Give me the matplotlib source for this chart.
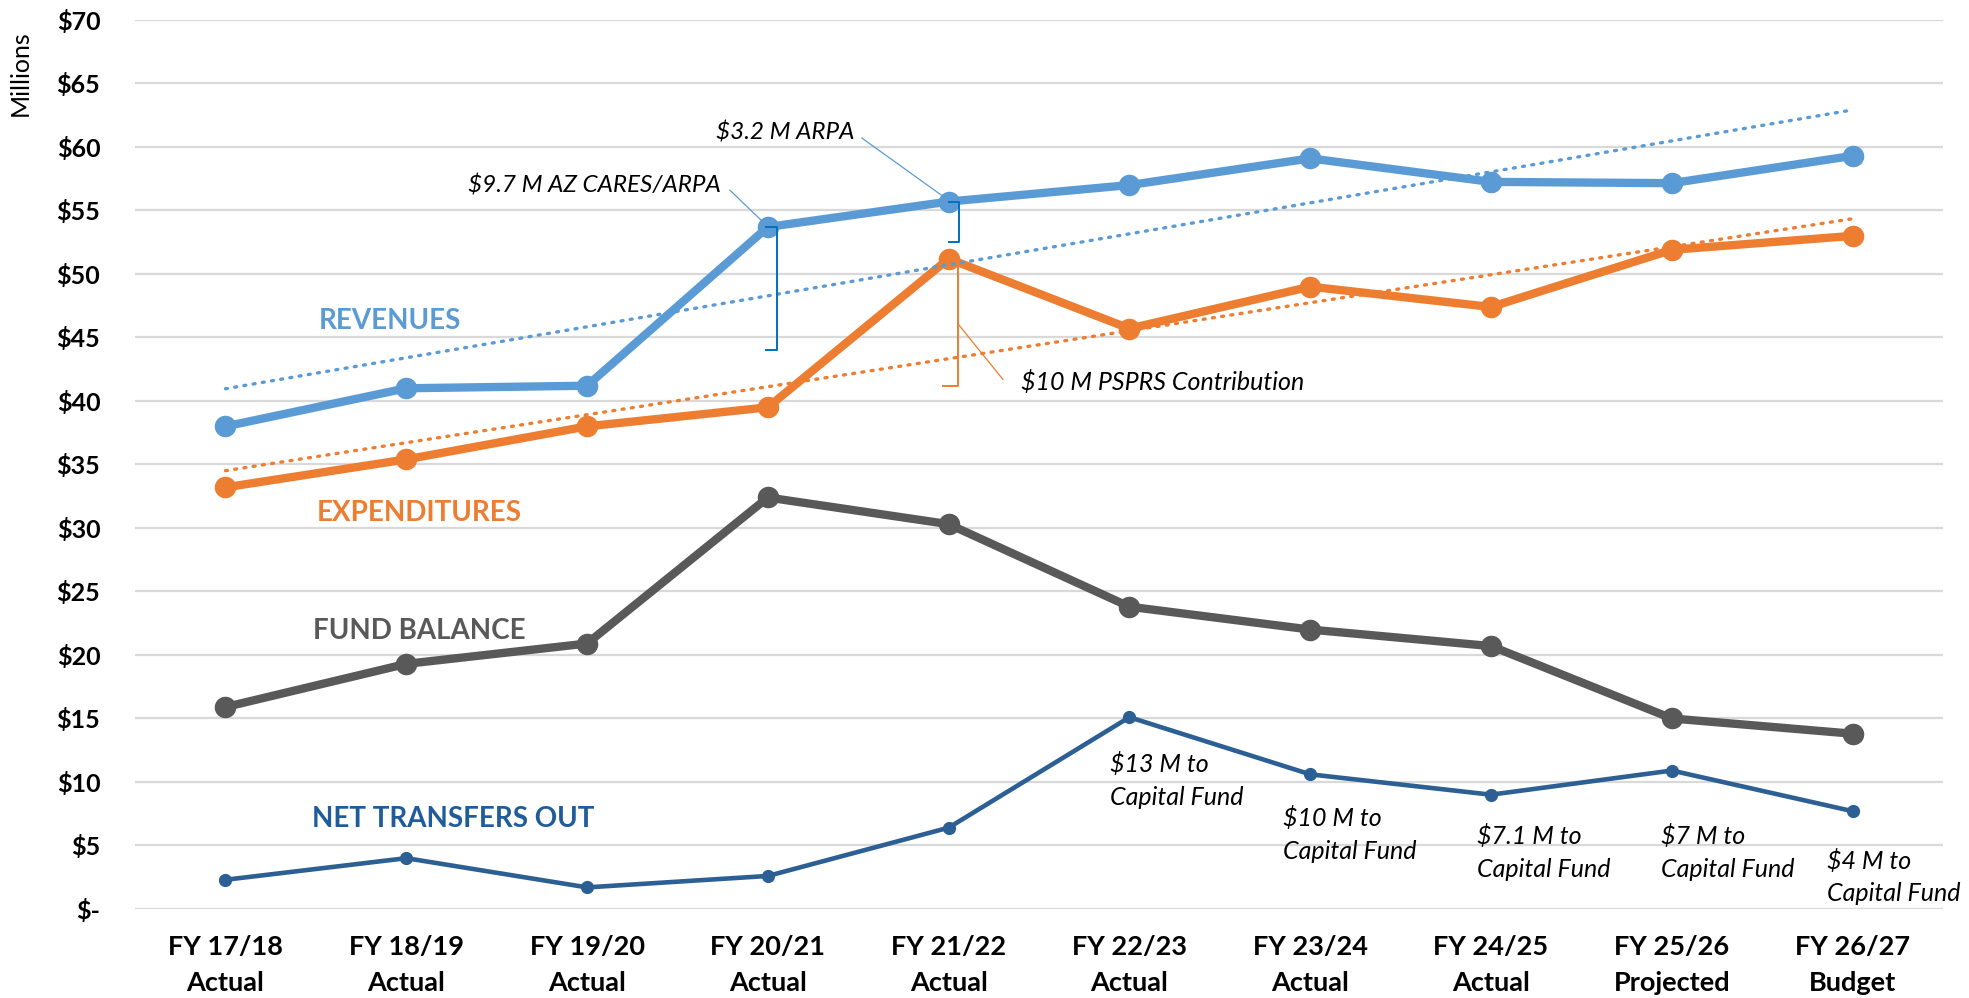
import numpy as np
import matplotlib
matplotlib.use("Agg")
import matplotlib.pyplot as plt
from matplotlib.ticker import FixedLocator

categories = ["FY 17/18\nActual", "FY 18/19\nActual", "FY 19/20\nActual", "FY 20/21\nActual",
              "FY 21/22\nActual", "FY 22/23\nActual", "FY 23/24\nActual", "FY 24/25\nActual",
              "FY 25/26\nProjected", "FY 26/27\nBudget"]
revenues = [38.0, 41.0, 41.2, 53.7, 55.7, 57.0, 59.1, 57.25, 57.15, 59.3]
expenditures = [33.2, 35.4, 38.0, 39.5, 51.2, 45.7, 49.0, 47.4, 51.9, 53.0]
fund_balance = [15.9, 19.3, 20.9, 32.4, 30.3, 23.8, 22.0, 20.7, 15.0, 13.8]
net_transfers = [2.3, 4.0, 1.7, 2.6, 6.4, 15.1, 10.6, 9.0, 10.9, 7.7]
y_ticks = [0, 5, 10, 15, 20, 25, 30, 35, 40, 45, 50, 55, 60, 65, 70]
y_labels = ["$-", "$5", "$10", "$15", "$20", "$25", "$30", "$35", "$40", "$45",
            "$50", "$55", "$60", "$65", "$70"]
transfer_notes = ["$13 M to\nCapital Fund", "$10 M to\nCapital Fund", "$7.1 M to\nCapital Fund",
                  "$7 M to\nCapital Fund", "$4 M to\nCapital Fund"]
cares_amount = 9.7
arpa_amount = 3.2
psprs_amount = 10.0

BLUE = "#5B9BD5"
ORANGE = "#ED7D31"
GRAY = "#595959"
NAVY = "#2C5F93"
BRACKET_BLUE = "#0070C0"

plt.rcParams['font.family'] = ['Lato', 'DejaVu Sans']

fig = plt.figure(figsize=(19.69, 9.98), dpi=100)
ax = fig.add_axes([0.0686, 0.0892, 0.9182, 0.8908])

x = np.arange(len(categories))
ax.set_xlim(-0.5, len(categories) - 0.5)
ax.set_ylim(0, 70)

for s in ax.spines.values():
    s.set_visible(False)
ax.yaxis.set_major_locator(FixedLocator(y_ticks))
ax.set_yticklabels(y_labels, fontsize=18, fontweight='bold')
ax.set_xticks(x)
ax.set_xticklabels(categories, fontsize=19.5, fontweight='bold', linespacing=1.6)
ax.tick_params(axis='both', length=0)
ax.tick_params(axis='y', pad=25)
ax.tick_params(axis='x', pad=19)
ax.grid(axis='y', color='#D9D9D9', linewidth=1.6)
ax.set_axisbelow(True)

ax.plot(x, revenues, color=BLUE, lw=6, marker='o', ms=14.5, zorder=3, solid_capstyle='round')
ax.plot(x, expenditures, color=ORANGE, lw=6, marker='o', ms=14.5, zorder=3, solid_capstyle='round')
ax.plot(x, fund_balance, color=GRAY, lw=6, marker='o', ms=14.5, zorder=3, solid_capstyle='round')
ax.plot(x, net_transfers, color=NAVY, lw=3.3, marker='o', ms=8.5, zorder=3)

# linear trendlines
for series, col in [(revenues, BLUE), (expenditures, ORANGE)]:
    coef = np.polyfit(x, series, 1)
    ax.plot(x[[0, -1]], np.polyval(coef, x[[0, -1]]), color=col, lw=2.4,
            linestyle=(0, (0.6, 2.2)), dash_capstyle='round', zorder=4)

# series labels
ax.text(0.907, 46.3, "REVENUES", color=BLUE, fontsize=20, fontweight='bold', ha='center', va='center')
ax.text(1.07, 31.2, "EXPENDITURES", color=ORANGE, fontsize=20, fontweight='bold', ha='center', va='center')
ax.text(1.07, 21.9, "FUND BALANCE", color=GRAY, fontsize=20, fontweight='bold', ha='center', va='center')
ax.text(1.26, 7.1, "NET TRANSFERS OUT", color="#1F5C99", fontsize=20, fontweight='bold', ha='center', va='center')

# brackets
def bracket(xv, ytop, ybot, col, tick=0.06):
    ax.plot([xv - tick, xv, xv, xv - tick], [ytop, ytop, ybot, ybot], color=col, lw=1.4, zorder=5)

bracket(3.05, revenues[3], revenues[3] - cares_amount, BRACKET_BLUE)
bracket(4.06, revenues[4], revenues[4] - arpa_amount, BRACKET_BLUE)
bracket(4.05, expenditures[4], expenditures[4] - psprs_amount, ORANGE, tick=0.08)

# leader lines and annotation text
ax.plot([2.79, 2.98], [56.6, 54.0], color=BLUE, lw=0.9, zorder=5)
ax.text(2.74, 57.0, "$9.7 M AZ CARES/ARPA", fontsize=17.5, style='italic', ha='right', va='center')
ax.plot([3.52, 3.98], [60.7, 56.0], color=BLUE, lw=0.9, zorder=5)
ax.text(3.48, 61.1, "$3.2 M ARPA", fontsize=17.5, style='italic', ha='right', va='center')
ax.plot([4.05, 4.30], [46.1, 41.7], color=ORANGE, lw=0.9, zorder=5)
ax.text(4.40, 41.5, "$10 M PSPRS Contribution", fontsize=18, style='italic', ha='left', va='center')

note_pos = [(4.89, 10.1), (5.85, 5.85), (6.92, 4.45), (7.94, 4.45), (8.86, 2.5)]
for (nx, ny), t in zip(note_pos, transfer_notes):
    ax.text(nx, ny, t, fontsize=18, style='italic', ha='left', va='center', linespacing=1.5)

fig.text(0.0102, 0.927, "Millions", rotation=90, fontsize=18, ha='center', va='center')

fig.savefig("out.png", dpi=100)
